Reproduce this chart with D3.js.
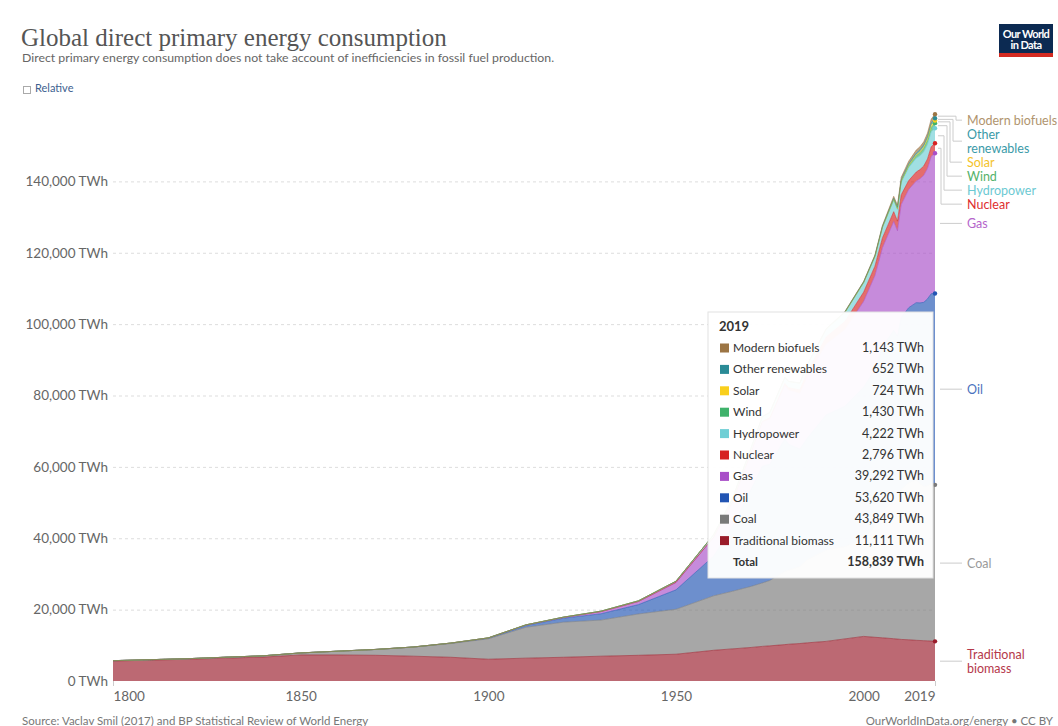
<!DOCTYPE html>
<html>
<head>
<meta charset="utf-8">
<script src="https://cdn.jsdelivr.net/npm/d3@7"></script>
<style>
  body { margin: 0; background: #fff; }
  svg { display: block; font-family: Lato, "Open Sans", sans-serif; }
</style>
</head>
<body>
<div id="chart"></div>
<script>
// Years sampled (Smil decadal up to 1960, BP afterwards)
const years = [1800, 1810, 1820, 1830, 1840, 1850, 1860, 1870, 1880, 1890,
  1900, 1910, 1920, 1930, 1940, 1950, 1960, 1965, 1970, 1973,
  1975, 1979, 1980, 1983, 1985, 1990, 1995, 2000, 2003, 2005,
  2008, 2009, 2010, 2012, 2014, 2015, 2016, 2017, 2018, 2019];

// Values in TWh, one per year above
const tradBiomass = [5600, 5850, 6100, 6400, 6700, 7300, 7300, 7200, 6950, 6650,
  6100, 6400, 6650, 6950, 7200, 7500, 8600, 9000, 9400, 9700,
  9850, 10200, 10300, 10500, 10700, 11100, 11800, 12500, 12250, 12100,
  11850, 11750, 11650, 11550, 11400, 11350, 11300, 11250, 11200, 11111];
const coal = [97, 128, 153, 264, 356, 569, 1061, 1642, 2542, 3856,
  5728, 8656, 9833, 10125, 11586, 12603, 15264, 16140, 17110, 17780,
  18330, 20550, 20780, 21600, 23330, 25640, 25900, 27300, 31250, 35280,
  39170, 38600, 42000, 44060, 44920, 44030, 43220, 43500, 44170, 43849];
const oil = [0, 0, 0, 0, 0, 0, 0, 6, 33, 89,
  181, 497, 1111, 1764, 2620, 5444, 11097, 18109, 27200, 32700,
  32560, 37100, 35250, 32900, 34060, 37830, 39280, 42530, 43900, 46300,
  47250, 46300, 48170, 49000, 49700, 50580, 51580, 52330, 53170, 53620];
const gas = [0, 0, 0, 0, 0, 0, 0, 0, 0, 33,
  64, 142, 233, 603, 875, 2092, 5292, 6830, 10300, 12360,
  12640, 14860, 15140, 15550, 17080, 19800, 21440, 24080, 26200, 27700,
  30500, 29500, 31670, 33140, 34060, 34780, 35590, 36560, 38470, 39292];
const nuclear = [0, 0, 0, 0, 0, 0, 0, 0, 0, 0,
  0, 0, 0, 0, 0, 0, 0, 26, 79, 203,
  385, 685, 713, 1000, 1480, 2001, 2330, 2580, 2640, 2770,
  2740, 2700, 2770, 2470, 2540, 2570, 2610, 2640, 2710, 2796];
const hydropower = [0, 0, 0, 0, 0, 0, 0, 0, 0, 0,
  14, 33, 64, 128, 192, 333, 688, 923, 1180, 1320,
  1450, 1660, 1730, 1890, 1980, 2160, 2500, 2650, 2670, 2900,
  3230, 3250, 3430, 3650, 3880, 3870, 4010, 4060, 4170, 4222];
const wind = [0, 0, 0, 0, 0, 0, 0, 0, 0, 0,
  0, 0, 0, 0, 0, 0, 0, 0, 0, 0,
  0, 0, 0, 0, 0, 4, 8, 31, 63, 104,
  221, 276, 346, 522, 706, 831, 962, 1140, 1270, 1430];
const solar = [0, 0, 0, 0, 0, 0, 0, 0, 0, 0,
  0, 0, 0, 0, 0, 0, 0, 0, 0, 0,
  0, 0, 0, 0, 0, 0, 0, 1, 2, 4,
  12, 20, 34, 100, 198, 256, 334, 447, 585, 724];
const otherRenewables = [0, 0, 0, 0, 0, 0, 0, 0, 0, 0,
  0, 0, 0, 0, 0, 0, 0, 25, 34, 40,
  45, 56, 60, 75, 90, 130, 160, 200, 230, 260,
  310, 330, 380, 440, 520, 560, 580, 610, 630, 652];
const modernBiofuels = [0, 0, 0, 0, 0, 0, 0, 0, 0, 0,
  0, 0, 0, 0, 0, 0, 0, 0, 0, 0,
  0, 0, 0, 0, 0, 100, 110, 110, 170, 230,
  530, 590, 680, 740, 860, 880, 900, 980, 1080, 1143];

// Stack order, bottom to top
const sources = ["Traditional biomass", "Coal", "Oil", "Gas", "Nuclear",
  "Hydropower", "Wind", "Solar", "Other renewables", "Modern biofuels"];
const seriesValues = [tradBiomass, coal, oil, gas, nuclear,
  hydropower, wind, solar, otherRenewables, modernBiofuels];

const yTicks = [0, 20000, 40000, 60000, 80000, 100000, 120000, 140000];
const xTicks = [1800, 1850, 1900, 1950, 2000, 2019];

const colors = {
  "Traditional biomass": "#9a1c2a",
  "Coal": "#7a7a7a",
  "Oil": "#2255b3",
  "Gas": "#a94fc8",
  "Nuclear": "#d62222",
  "Hydropower": "#6fcfd5",
  "Wind": "#3fb26b",
  "Solar": "#f9cf1c",
  "Other renewables": "#2a8b96",
  "Modern biofuels": "#9c7544"
};
const labelColors = {
  "Traditional biomass": "#b5384a",
  "Coal": "#9a9a9a",
  "Oil": "#4a72be",
  "Gas": "#b565cb",
  "Nuclear": "#de2f2f",
  "Hydropower": "#6cc9d2",
  "Wind": "#54b26a",
  "Solar": "#f4c32a",
  "Other renewables": "#3a9aa8",
  "Modern biofuels": "#b0946e"
};
const labelLines = {
  "Other renewables": ["Other", "renewables"],
  "Traditional biomass": ["Traditional", "biomass"]
};

const width = 1058, height = 726;
const table = years.map((yr, i) => {
  const row = { year: yr };
  sources.forEach((s, k) => row[s] = seriesValues[k][i]);
  return row;
});

const svg = d3.select("#chart").append("svg")
  .attr("width", width).attr("height", height);

const x = d3.scaleLinear().domain([1800, 2019]).range([113, 935]);
const y = d3.scaleLinear().domain([0, 160000]).range([681, 110]);

// Title block
svg.append("text").attr("x", 21).attr("y", 46)
  .style("font-family", "'Liberation Serif', 'DejaVu Serif', serif")
  .style("font-size", "25px").attr("fill", "#555")
  .text("Global direct primary energy consumption");
svg.append("text").attr("x", 22).attr("y", 62)
  .style("font-size", "12.3px").attr("fill", "#666")
  .text("Direct primary energy consumption does not take account of inefficiencies in fossil fuel production.");
svg.append("rect").attr("x", 23.5).attr("y", 86.5).attr("width", 7).attr("height", 7)
  .attr("fill", "#fff").attr("stroke", "#aaa");
svg.append("text").attr("x", 35).attr("y", 92)
  .style("font-size", "11px").attr("fill", "#3d5f8f").text("Relative");

// Logo
const logo = svg.append("g");
logo.append("rect").attr("x", 999).attr("y", 24).attr("width", 54).attr("height", 33).attr("fill", "#0c2a52");
logo.append("rect").attr("x", 999).attr("y", 53).attr("width", 54).attr("height", 4).attr("fill", "#d42b22");
logo.append("text").attr("x", 1026).attr("y", 37.5).attr("text-anchor", "middle")
  .style("font-size", "11px").style("font-weight", "bold").style("letter-spacing", "-0.6px")
  .attr("fill", "#fff").text("Our World");
logo.append("text").attr("x", 1026).attr("y", 48.5).attr("text-anchor", "middle")
  .style("font-size", "11px").style("font-weight", "bold").style("letter-spacing", "-0.6px")
  .attr("fill", "#fff").text("in Data");

// Grid and y axis
const yAxis = svg.append("g").attr("transform", "translate(113,0)")
  .call(d3.axisLeft(y).tickValues(yTicks).tickSize(0).tickPadding(5)
    .tickFormat(d => d3.format(",")(d) + " TWh"));
yAxis.select(".domain").remove();
yAxis.selectAll("text").attr("fill", "#666").style("font-size", "13.5px")
  .style("font-family", "Lato, sans-serif");
svg.append("g").selectAll("line").data(yTicks.filter(d => d > 0)).join("line")
  .attr("x1", 113).attr("x2", 935)
  .attr("y1", d => y(d) + 0.5).attr("y2", d => y(d) + 0.5)
  .attr("stroke", "#ddd").attr("stroke-dasharray", "3,3");

// Stacked areas
const stack = d3.stack().keys(sources);
const layers = stack(table);
const area = d3.area().x(d => x(d.data.year)).y0(d => y(d[0])).y1(d => y(d[1]));
const topLine = d3.line().x(d => x(d.data.year)).y(d => y(d[1]));

svg.append("g").selectAll("path").data(layers).join("path")
  .attr("d", area).attr("fill", d => colors[d.key]).attr("fill-opacity", 0.66);
svg.append("g").selectAll("path").data(layers).join("path")
  .attr("d", topLine).attr("fill", "none")
  .attr("stroke", d => colors[d.key]).attr("stroke-width", 0.7).attr("stroke-opacity", 0.8);

// X axis
const xAxis = svg.append("g").attr("transform", "translate(0,681)")
  .call(d3.axisBottom(x).tickValues(xTicks).tickSize(0).tickPadding(10).tickFormat(d3.format("d")));
xAxis.select(".domain").remove();
xAxis.selectAll("text").attr("fill", "#666").style("font-size", "13.5px")
  .style("font-family", "Lato, sans-serif")
  .attr("text-anchor", d => d === 1800 ? "start" : d === 2019 ? "end" : "middle");
xAxis.selectAll(".tick").filter(d => d === 1800 || d === 2019).append("line")
  .attr("y1", 0).attr("y2", 5).attr("stroke", "#ccc");

// Hover dots at the last year
const last = years.length - 1;
svg.append("g").selectAll("circle").data(layers).join("circle")
  .attr("cx", x(years[last])).attr("cy", d => y(d[last][1])).attr("r", 2.2)
  .attr("fill", d => colors[d.key]);

// Right-hand labels with connector lines
const lineH = 14;
const labels = layers.map(l => {
  const lines = labelLines[l.key] || [l.key];
  return { key: l.key, lines, mid: y((l[last][0] + l[last][1]) / 2), h: lines.length * lineH };
}).sort((a, b) => a.mid - b.mid);
labels.forEach(l => l.pos = l.mid);
const topLimit = y(d3.max(layers[layers.length - 1], d => d[1])) - 1;
for (let iter = 0; iter < 200; iter++) {
  let moved = false;
  // group overlapping labels and centre them on their mean mid
  let groups = [];
  labels.forEach(l => {
    const g = groups[groups.length - 1];
    if (g && g.end > l.pos - l.h / 2) { g.items.push(l); g.end += l.h; }
    else groups.push({ items: [l], end: l.pos + l.h / 2 });
  });
  groups.forEach(g => {
    if (g.items.length < 2) return;
    const total = d3.sum(g.items, d => d.h);
    let start = d3.mean(g.items, d => d.mid) - total / 2;
    start = Math.max(start, topLimit);
    g.items.forEach(l => {
      const p = start + l.h / 2;
      if (Math.abs(p - l.pos) > 0.01) moved = true;
      l.pos = p; start += l.h;
    });
  });
  if (!moved) break;
}
const legend = svg.append("g");
const shifted = labels.filter(l => Math.abs(l.pos - l.mid) > 1.5);
labels.forEach(l => {
  const idx = shifted.indexOf(l);
  let pts;
  if (idx < 0) pts = [[940, l.pos], [962, l.pos]];
  else {
    const ex = 956 - idx * 3;
    pts = [[938, l.mid], [ex, l.mid], [ex, l.pos], [962, l.pos]];
  }
  legend.append("path").attr("d", d3.line()(pts)).attr("fill", "none")
    .attr("stroke", "#ccc").attr("stroke-width", 1);
  const t = legend.append("text").attr("x", 967)
    .attr("y", l.pos - l.h / 2 + lineH / 2 + 4.5)
    .attr("fill", labelColors[l.key]).style("font-size", "12.5px");
  l.lines.forEach((s, i) => t.append("tspan").attr("x", 967).attr("dy", i ? lineH : 0).text(s));
});

// Tooltip for 2019
const tip = svg.append("g");
const tipX = 708, tipY = 312, tipW = 225, tipH = 266;
tip.append("rect").attr("x", tipX).attr("y", tipY).attr("width", tipW).attr("height", tipH)
  .attr("fill", "#fff").attr("fill-opacity", 0.96).attr("stroke", "#e2e2e2");
tip.append("text").attr("x", 719).attr("y", 331).style("font-size", "13px")
  .style("font-weight", "bold").attr("fill", "#333").text(years[last]);
const tipRows = sources.slice().reverse();
const rowY = i => 352 + i * 21.4;
tipRows.forEach((s, i) => {
  const k = sources.indexOf(s);
  tip.append("rect").attr("x", 720).attr("y", rowY(i) - 8.5).attr("width", 9).attr("height", 9)
    .attr("fill", colors[s]);
  tip.append("text").attr("x", 733).attr("y", rowY(i)).style("font-size", "12px")
    .attr("fill", "#333").text(s);
  tip.append("text").attr("x", 924).attr("y", rowY(i)).attr("text-anchor", "end")
    .style("font-size", "12.5px").attr("fill", "#333")
    .text(d3.format(",")(seriesValues[k][last]) + " TWh");
});
const totalY = rowY(tipRows.length);
tip.append("text").attr("x", 733).attr("y", totalY).style("font-size", "11.5px")
  .style("font-weight", "bold").attr("fill", "#333").text("Total");
tip.append("text").attr("x", 924).attr("y", totalY).attr("text-anchor", "end")
  .style("font-size", "12.5px").style("font-weight", "bold").attr("fill", "#333")
  .text(d3.format(",")(d3.sum(seriesValues, v => v[last])) + " TWh");

// Footer
svg.append("text").attr("x", 22).attr("y", 725).style("font-size", "11.5px").attr("fill", "#777")
  .text("Source: Vaclav Smil (2017) and BP Statistical Review of World Energy");
svg.append("text").attr("x", 1053).attr("y", 725).attr("text-anchor", "end")
  .style("font-size", "11.5px").attr("fill", "#777")
  .text("OurWorldInData.org/energy • CC BY");
</script>
</body>
</html>
